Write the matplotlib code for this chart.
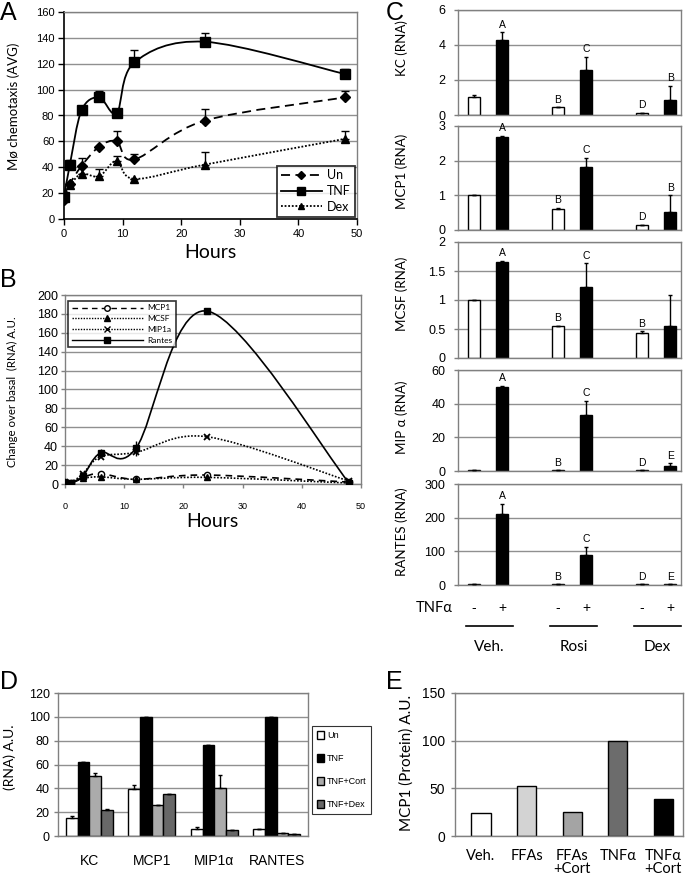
import numpy as np
import matplotlib
matplotlib.use('Agg')
import matplotlib.pyplot as plt
from matplotlib.path import Path
from matplotlib.patches import PathPatch, Patch
from matplotlib.lines import Line2D
import matplotlib.transforms as mtrans

plt.rcParams['font.family'] = ['Liberation Sans', 'DejaVu Sans']
LBL = ['Lato', 'DejaVu Sans']
GRID = '#909090'
FRAME = '#808080'

# ---------------- data ----------------
# Panel A
a_hours = [0, 1, 3, 6, 9, 12, 24, 48]
a_un = [15, 27, 41, 56, 60, 46, 76, 94]
a_un_err = [0, 0, 6, 0, 8, 4.5, 9, 5]
a_tnf = [17, 42, 84, 94, 82, 121, 137, 112]
a_tnf_err = [0, 3.5, 0, 5, 0, 10, 7, 4]
a_dex = [19, 26, 35, 33, 45, 31, 42, 62]
a_dex_err = [0, 0, 0, 5.5, 3.5, 0, 10, 6]
a_labels = ['Un', 'TNF', 'Dex']

# Panel B
b_hours = [0, 1, 3, 6, 12, 24, 48]
b_mcp1 = [2, 1, 7, 11, 5, 9.5, 2]
b_mcsf = [1, 1, 6, 7.5, 5, 7, 1]
b_mip1a = [2, 1, 11, 29, 33.5, 50, 3]
b_rantes = [1.5, 1, 8, 33, 38, 183, 1]
b_rantes_err = [1, 1, 2, 4, 8, 3, 0]
b_labels = ['MCP1', 'MCSF', 'MIP1a', 'Rantes']

# Panel C
c_groups = ['Veh.', 'Rosi', 'Dex']
c_tnf = ['-', '+']
c_kc = [1.0, 4.3, 0.44, 2.57, 0.1, 0.86]
c_kc_err = [0.14, 0.42, 0, 0.73, 0, 0.8]
c_kc_let = ['', 'A', 'B', 'C', 'D', 'B']
c_mcp1 = [1.0, 2.67, 0.6, 1.83, 0.15, 0.52]
c_mcp1_err = [0, 0.05, 0.03, 0.24, 0, 0.48]
c_mcp1_let = ['', 'A', 'B', 'C', 'D', 'B']
c_mcsf = [1.0, 1.66, 0.56, 1.23, 0.43, 0.55]
c_mcsf_err = [0, 0.02, 0, 0.4, 0.03, 0.53]
c_mcsf_let = ['', 'A', 'B', 'C', 'B', '']
c_mip = [0.3, 50, 0.3, 33, 0.3, 3.2]
c_mip_err = [0, 0.5, 0, 8.5, 0, 1.3]
c_mip_let = ['', 'A', 'B', 'C', 'D', 'E']
c_rantes = [2, 211, 2, 90, 1.5, 2]
c_rantes_err = [0, 30, 0, 23, 0, 0]
c_rantes_let = ['', 'A', 'B', 'C', 'D', 'E']
c_ylabels = ['KC (RNA)', 'MCP1 (RNA)', 'MCSF (RNA)', 'MIP \u03b1 (RNA)', 'RANTES (RNA)']
c_ylims = [6, 3, 2, 60, 300]
c_yticks = [[0, 2, 4, 6], [0, 1, 2, 3], [0, 0.5, 1, 1.5, 2], [0, 20, 40, 60], [0, 100, 200, 300]]

# Panel D
d_genes = ['KC', 'MCP1', 'MIP1\u03b1', 'RANTES']
d_series = ['Un', 'TNF', 'TNF+Cort', 'TNF+Dex']
d_un = [15, 39.5, 5.6, 5.5]
d_un_err = [1.7, 3, 1.8, 0]
d_tnf = [62, 100, 76, 100]
d_tnf_err = [0, 0, 0, 0]
d_cort = [50, 26, 40.5, 2.8]
d_cort_err = [3, 0, 11, 0]
d_dex = [21.5, 35.5, 4.8, 2]
d_dex_err = [1.5, 0, 0, 0]
d_colors = ['white', 'black', '#ababab', '#686868']

# Panel E
e_cats = ['Veh.', 'FFAs', 'FFAs\n+Cort', 'TNF\u03b1', 'TNF\u03b1\n+Cort']
e_vals = [24.5, 52, 25, 100, 38.5]
e_colors = ['white', '#d3d3d3', '#a4a4a4', '#6c6c6c', 'black']

# ---------------- helpers ----------------
W, H = 685, 880
fig = plt.figure(figsize=(6.85, 8.8), dpi=100)


def add_ax(l, t, r, b):
    return fig.add_axes([l / W, 1 - b / H, (r - l) / W, (b - t) / H])


def ftext(x, y, s, **kw):
    return fig.text(x / W, 1 - y / H, s, **kw)


def smooth_path(x, y):
    pts = np.column_stack([np.asarray(x, float), np.asarray(y, float)])
    n = len(pts)
    verts = [pts[0]]
    codes = [Path.MOVETO]
    for i in range(n - 1):
        p0 = pts[i - 1] if i > 0 else pts[i]
        p1 = pts[i]
        p2 = pts[i + 1]
        p3 = pts[i + 2] if i + 2 < n else pts[i + 1]
        verts += [p1 + (p2 - p0) / 6.0, p2 - (p3 - p1) / 6.0, p2]
        codes += [Path.CURVE4] * 3
    return Path(verts, codes)


def smooth_line(ax, x, y, ls, lw, z=2):
    ax.add_patch(PathPatch(smooth_path(x, y), fill=False, edgecolor='black',
                           linestyle=ls, linewidth=lw, zorder=z))


def frame(ax, color=FRAME):
    for s in ax.spines.values():
        s.set_color(color)
        s.set_linewidth(1.0)


# ---------------- Panel A ----------------
axA = add_ax(64, 12, 357, 219)
frame(axA)
axA.spines['left'].set_color('black')
axA.spines['bottom'].set_color('black')
axA.spines['left'].set_linewidth(1.2)
axA.spines['bottom'].set_linewidth(1.2)
axA.set_xlim(0, 50)
axA.set_ylim(0, 160)
axA.set_yticks(range(0, 161, 20))
axA.set_xticks(range(0, 51, 10))
axA.yaxis.grid(True, color=GRID, lw=1.0)
axA.set_axisbelow(True)
axA.tick_params(direction='out', length=4, width=1, labelsize=8, pad=3)

series_a = [(a_un, a_un_err, (0, (5, 3)), 'D', 5),
            (a_tnf, a_tnf_err, '-', 's', 6.5),
            (a_dex, a_dex_err, (0, (1, 1)), '^', 5.5)]
handles = []
for (vals, err, ls, mk, ms), lab in zip(series_a, a_labels):
    smooth_line(axA, a_hours, vals, ls, 1.3)
    axA.errorbar(a_hours, vals, yerr=[np.zeros(len(err)), err], fmt='none',
                 ecolor='black', elinewidth=1, capsize=3, zorder=3)
    axA.plot(a_hours, vals, linestyle='none', marker=mk, ms=ms, color='black', zorder=4)
    handles.append(Line2D([], [], color='black', linestyle=ls, lw=1.3, marker=mk, ms=ms - 0.5))
legA = axA.legend(handles, a_labels, loc='lower right', bbox_to_anchor=(1.0, 0.0),
                  borderaxespad=0.2, frameon=True, fancybox=False,
                  handlelength=3.3, labelspacing=0.3, borderpad=0.3, handletextpad=0.4,
                  prop={'family': LBL, 'size': 9})
legA.get_frame().set_edgecolor('black')
legA.get_frame().set_linewidth(1.3)
ftext(14, 106, 'M\u00f8 chemotaxis (AVG)', rotation=90, ha='center', va='center',
      fontsize=9.5, family=LBL)
ftext(210, 258, 'Hours', ha='center', va='baseline', fontsize=14, family=LBL)

# ---------------- Panel B ----------------
axB = add_ax(65, 295, 361, 484)
frame(axB)
axB.set_xlim(0, 50)
axB.set_ylim(0, 200)
axB.set_yticks(range(0, 201, 20))
axB.set_xticks(range(0, 51, 10))
axB.yaxis.grid(True, color=GRID, lw=1.0)
axB.set_axisbelow(True)
axB.tick_params(axis='y', direction='out', length=3, width=1, labelsize=9, pad=2, colors=FRAME,
                labelcolor='black')
axB.tick_params(axis='x', direction='out', length=3, width=1, labelsize=6.5, pad=10, colors=FRAME,
                labelcolor='black')
series_b = [(b_mcp1, (0, (4, 3)), 'o', 'white', 4.5),
            (b_mcsf, (0, (1, 1)), '^', 'black', 4.5),
            (b_mip1a, (0, (1, 1)), 'x', 'black', 5),
            (b_rantes, '-', 's', 'black', 5)]
hb = []
for vals, ls, mk, mfc, ms in series_b:
    smooth_line(axB, b_hours, vals, ls, 1.2)
    axB.plot(b_hours, vals, linestyle='none', marker=mk, ms=ms, mfc=mfc, mec='black',
             mew=1.3 if mk == 'x' else 1.0, zorder=4)
    hb.append(Line2D([], [], color='black', linestyle=ls, lw=1.0, marker=mk, ms=4,
                     mfc=mfc, mec='black'))
axB.errorbar(b_hours, b_rantes, yerr=b_rantes_err, fmt='none', ecolor='black',
             elinewidth=1, capsize=0, zorder=3)
legB = axB.legend(hb, b_labels, loc='upper left', bbox_to_anchor=(0.01, 0.97),
                  borderaxespad=0.0, frameon=True, fancybox=False,
                  handlelength=8.5, labelspacing=0.45, borderpad=0.45, handletextpad=0.6,
                  prop={'family': LBL, 'size': 6})
legB.get_frame().set_edgecolor('black')
legB.get_frame().set_linewidth(1.2)
ftext(12, 392, 'Change over basal  (RNA) A.U.', rotation=90, ha='center', va='center',
      fontsize=8.2, family=LBL)
ftext(212, 527, 'Hours', ha='center', va='baseline', fontsize=14, family=LBL)

# ---------------- Panel C ----------------
c_vals = [c_kc, c_mcp1, c_mcsf, c_mip, c_rantes]
c_errs = [c_kc_err, c_mcp1_err, c_mcsf_err, c_mip_err, c_rantes_err]
c_lets = [c_kc_let, c_mcp1_let, c_mcsf_let, c_mip_let, c_rantes_let]
c_boxes = [(10, 115), (126, 230), (242, 358), (370, 471), (484, 585)]
c_label_y = [48, 171, 294, 417, 532]
xpos = np.array([g * 3 + k for g in range(len(c_groups)) for k in range(len(c_tnf))], float)
fills = ['white', 'black'] * len(c_groups)
axC = []
for i in range(5):
    t, b = c_boxes[i]
    ax = add_ax(458, t, 681, b)
    frame(ax)
    ax.set_xlim(-0.57, 7.39)
    ax.set_ylim(0, c_ylims[i])
    ax.set_yticks(c_yticks[i])
    ax.set_yticklabels([('%g' % v) for v in c_yticks[i]])
    ax.set_xticks([])
    ax.yaxis.grid(True, color=GRID, lw=1.0)
    ax.set_axisbelow(True)
    ax.tick_params(axis='y', direction='out', length=3, width=1, colors=FRAME,
                   labelcolor='black', labelsize=9, pad=6)
    ax.bar(xpos, c_vals[i], width=0.43, color=fills, edgecolor='black', linewidth=1.0, zorder=2)
    ax.errorbar(xpos, c_vals[i], yerr=[np.zeros(6), c_errs[i]], fmt='none', ecolor='black',
                elinewidth=1, capsize=1.5, zorder=3)
    for xx, v, e, l in zip(xpos, c_vals[i], c_errs[i], c_lets[i]):
        if l:
            ax.annotate(l, (xx, v + e), xytext=(0, 2), textcoords='offset points',
                        ha='center', va='bottom', fontsize=7.5, annotation_clip=False)
    ftext(402, c_label_y[i], c_ylabels[i], rotation=90, ha='center', va='center',
          fontsize=9.6, family=LBL)
    axC.append(ax)

axR = axC[-1]
trR = mtrans.blended_transform_factory(axR.transData, fig.transFigure)
for xx, k in zip(xpos, c_tnf * len(c_groups)):
    axR.text(xx, 1 - 608 / H, k, transform=trR, ha='center', va='center', fontsize=10)
ftext(453, 608, 'TNF\u03b1', ha='right', va='center', fontsize=10.5, family=LBL)
for g, name in enumerate(c_groups):
    gc = g * 3 + 0.55
    axR.plot([gc - 0.83, gc + 0.83], [1 - 626 / H] * 2, transform=trR, color='black',
             lw=1.2, clip_on=False)
    axR.text(gc, 1 - 647 / H, name, transform=trR, ha='center', va='center', fontsize=11,
             family=LBL)

# ---------------- Panel D ----------------
axD = add_ax(58, 693, 308, 836)
frame(axD)
axD.set_xlim(-0.5, 3.5)
axD.set_ylim(0, 120)
axD.set_yticks(range(0, 121, 20))
gx = np.arange(len(d_genes))
axD.set_xticks(gx)
axD.set_xticklabels(d_genes)
axD.yaxis.grid(True, color=GRID, lw=1.0)
axD.set_axisbelow(True)
axD.tick_params(axis='y', direction='out', length=3, width=1, colors=FRAME,
                labelcolor='black', labelsize=9, pad=3)
axD.tick_params(axis='x', length=0, labelsize=10, pad=13)
d_vals = [d_un, d_tnf, d_cort, d_dex]
d_errs = [d_un_err, d_tnf_err, d_cort_err, d_dex_err]
bw = 0.187
hd = []
for j in range(4):
    xs = gx + (j - 1.5) * bw
    axD.bar(xs, d_vals[j], width=bw, color=d_colors[j], edgecolor='black', linewidth=1.0,
            zorder=2)
    axD.errorbar(xs, d_vals[j], yerr=[np.zeros(4), d_errs[j]], fmt='none', ecolor='black',
                 elinewidth=1, capsize=1.2, zorder=3)
    hd.append(Patch(facecolor=d_colors[j], edgecolor='black', linewidth=1.0))
legD = fig.legend(hd, d_series, loc='upper left', bbox_to_anchor=(312 / W, 1 - 726 / H),
                  borderaxespad=0, frameon=True, fancybox=False, handlelength=0.8,
                  handleheight=0.9, labelspacing=1.55, borderpad=0.55, handletextpad=0.3,
                  prop={'size': 6.5})
legD.get_frame().set_edgecolor('black')
legD.get_frame().set_linewidth(0.8)
ftext(10, 757, '(RNA) A.U.', rotation=90, ha='center', va='center', fontsize=10,
      family=LBL)

# ---------------- Panel E ----------------
axE = add_ax(455, 693, 683, 836)
frame(axE)
ex = np.arange(len(e_cats))
axE.set_xlim(-0.57, 4.43)
axE.set_ylim(0, 150)
axE.set_yticks([0, 50, 100, 150])
axE.set_xticks(ex)
axE.set_xticklabels(e_cats, family=LBL, linespacing=0.95)
axE.yaxis.grid(True, color=GRID, lw=1.0)
axE.set_axisbelow(True)
axE.tick_params(axis='y', direction='out', length=3, width=1, colors=FRAME,
                labelcolor='black', labelsize=10, pad=4)
axE.tick_params(axis='x', length=0, labelsize=10.5, pad=9)
for lab in axE.get_xticklabels():
    lab.set_va('top')
axE.bar(ex, e_vals, width=0.42, color=e_colors, edgecolor='black', linewidth=1.0, zorder=2)
ftext(407, 763, 'MCP1 (Protein) A.U.', rotation=90, ha='center', va='center', fontsize=11,
      family=LBL)

# ---------------- panel letters ----------------
for lt, x, y in [('A', 0, 20), ('B', 0, 287), ('C', 386, 20), ('D', 0, 689), ('E', 386, 689)]:
    ftext(x, y, lt, ha='left', va='baseline', fontsize=18)

fig.savefig('out.png', dpi=100)
